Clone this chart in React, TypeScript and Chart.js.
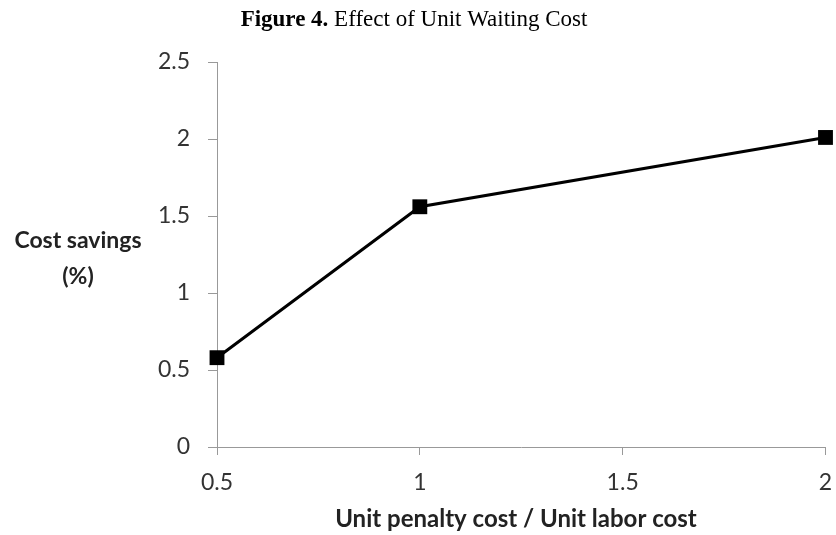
import React, { useEffect, useRef } from "react";
import { Chart, registerables } from "chart.js";

Chart.register(...registerables);

const xValues = [0.5, 1, 2];
const savings = [0.58, 1.56, 2.01];
const titleBold = "Figure 4.";
const titleRest = " Effect of Unit Waiting Cost";
const yTitleLines = ["Cost savings", "(%)"];
const xTitle = "Unit penalty cost / Unit labor cost";

const SANS = "Lato, 'Open Sans', sans-serif";
const SERIF = "'Liberation Serif', 'DejaVu Serif', serif";

const textPlugin = {
  id: "customText",
  afterDraw(chart: any) {
    const ctx = chart.ctx;
    ctx.save();
    ctx.fillStyle = "#000";
    ctx.textBaseline = "alphabetic";
    // Title
    ctx.font = `bold 23px ${SERIF}`;
    const wb = ctx.measureText(titleBold).width;
    ctx.font = `23px ${SERIF}`;
    const wr = ctx.measureText(titleRest).width;
    const tx = 414 - (wb + wr) / 2;
    ctx.textAlign = "left";
    ctx.font = `bold 23px ${SERIF}`;
    ctx.fillText(titleBold, tx, 26);
    ctx.font = `23px ${SERIF}`;
    ctx.fillText(titleRest, tx + wb, 26);
    // Y title
    ctx.font = `bold 23px ${SANS}`;
    ctx.textAlign = "center";
    ctx.textBaseline = "middle";
    ctx.fillStyle = "#222";
    ctx.fillText(yTitleLines[0], 78, 241);
    ctx.fillText(yTitleLines[1], 78, 277);
    // X title
    ctx.font = `bold 24px ${SANS}`;
    ctx.fillText(xTitle, 516, 519);
    ctx.restore();
  },
};

const fmt = (v: any) => String(Number(v));

export default function App() {
  const ref = useRef<HTMLCanvasElement>(null);
  useEffect(() => {
    document.body.style.margin = "0";
    const chart = new Chart(ref.current!, {
      type: "line",
      data: {
        datasets: [
          {
            data: xValues.map((x, i) => ({ x, y: savings[i] })),
            borderColor: "#000",
            backgroundColor: "#000",
            borderWidth: 3,
            pointStyle: "rect",
            pointRadius: 10.5,
            pointBorderWidth: 0,
            pointBackgroundColor: "#000",
            tension: 0,
            clip: false,
          },
        ],
      },
      options: {
        responsive: false,
        animation: false,
        layout: { padding: { left: 0, right: 10, top: 62, bottom: 0 } },
        plugins: { legend: { display: false }, title: { display: false }, tooltip: { enabled: false } },
        scales: {
          x: {
            type: "linear",
            min: 0.5,
            max: 2,
            ticks: { stepSize: 0.5, padding: 14, color: "#333", font: { family: SANS, size: 23 }, callback: fmt },
            grid: { drawOnChartArea: false, tickLength: 8, color: "#999" },
            border: { color: "#999", width: 1 },
            afterFit: (s: any) => {
              s.height = 88;
              s.paddingRight = 0;
              s.paddingLeft = 0;
            },
          },
          y: {
            min: 0,
            max: 2.5,
            ticks: { stepSize: 0.5, padding: 18, color: "#333", font: { family: SANS, size: 23 }, callback: fmt },
            grid: { drawOnChartArea: false, tickLength: 9, color: "#999" },
            border: { color: "#999", width: 1 },
            afterFit: (s: any) => {
              s.width = 217;
            },
          },
        },
      },
      plugins: [textPlugin],
    });
    return () => chart.destroy();
  }, []);
  return (
    <div style={{ position: "fixed", left: 0, top: 0, width: 836, height: 535, background: "#fff" }}>
      <canvas ref={ref} width={836} height={535} />
    </div>
  );
}
